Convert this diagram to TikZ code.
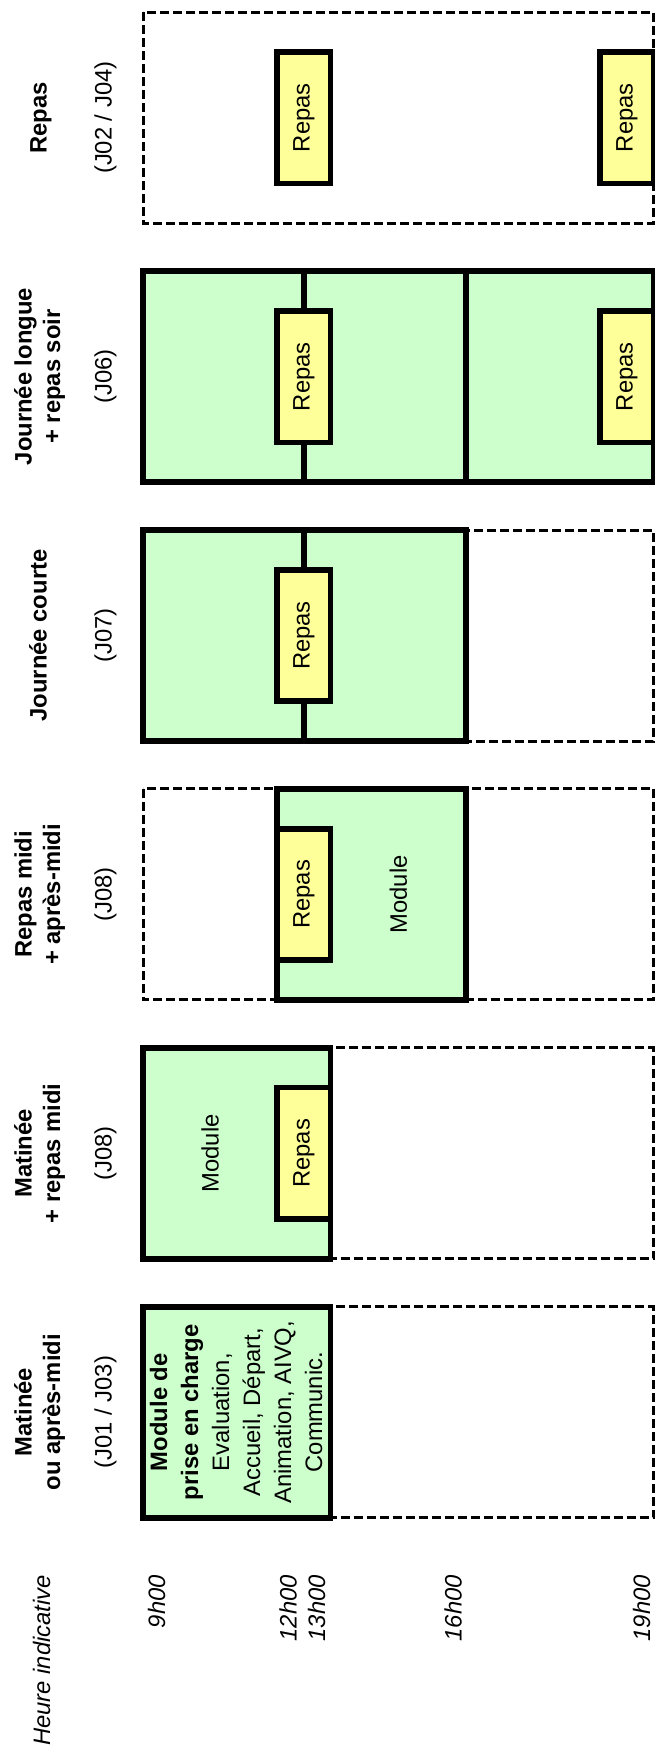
\documentclass[tikz,border=0pt]{standalone}
\usepackage{fontspec}
\setmainfont{Liberation Sans}
\definecolor{modgreen}{HTML}{CCFFCC}
\definecolor{mealyellow}{HTML}{FFFF99}
\begin{document}
\begin{tikzpicture}[x=1pt,y=-1pt,
  font=\fontsize{23.8}{30}\selectfont,
  boxline/.style={line width=5.7pt},
  modulebox/.style={boxline, fill=modgreen},
  dashline/.style={line width=3pt, dash pattern=on 9pt off 4pt},
  mealbox/.style={draw, boxline, fill=mealyellow, rotate=90, inner sep=0pt,
    minimum width=131.5pt, minimum height=53.6pt},
  hdr/.style={rotate=90, anchor=base, inner sep=0pt, font=\fontsize{23.8}{28}\selectfont\bfseries},
  code/.style={rotate=90, anchor=base, inner sep=0pt},
  hour/.style={rotate=90, anchor=base east, inner sep=0pt, font=\fontsize{23.8}{28}\selectfont\itshape},
  boxtext/.style={rotate=90, inner sep=0pt}
]
\useasboundingbox (0,0) rectangle (654,1749);

% ---------- Row 6 : Repas (J02 / J04)
\draw[dashline] (143,12.2) rectangle (653.5,223.2);
\node[mealbox] (r6m1) at (303.8,117.7) {Repas};
\node[mealbox, minimum height=53.2pt] (r6m2) at (626.9,117.7) {Repas};
\node[hdr] (h6a) at (46.7,117.7) {Repas};
\node[code] (c6) at (111.7,117.7) {(J02 / J04)};

% ---------- Row 5 : Journee longue + repas soir (J06)
\draw[modulebox] (143,271.1) rectangle (653.5,482.1);
\draw[boxline] (303.8,271.1) -- (303.8,482.1);
\draw[boxline] (466,271.1) -- (466,482.1);
\node[mealbox] (r5m1) at (303.8,376.6) {Repas};
\node[mealbox, minimum height=53.2pt] (r5m2) at (626.9,376.6) {Repas};
\node[hdr] (h5a) at (31.7,376.6) {Journée longue};
\node[hdr] (h5b) at (60,376.6) {+ repas soir};
\node[code] (c5) at (111.7,376.6) {(J06)};

% ---------- Row 4 : Journee courte (J07)
\draw[dashline] (466,530) rectangle (653.5,741);
\draw[modulebox] (143,530) rectangle (466,741);
\draw[boxline] (303.8,530) -- (303.8,741);
\node[mealbox] (r4m1) at (303.8,635.5) {Repas};
\node[hdr] (h4a) at (46.7,635.5) {Journée courte};
\node[code] (c4) at (111.7,635.5) {(J07)};

% ---------- Row 3 : Repas midi + apres-midi (J08)
\draw[dashline] (143,788.9) rectangle (653.5,999.9);
\draw[modulebox] (277,788.9) rectangle (466,999.9);
\node[mealbox] (r3m1) at (303.8,894.4) {Repas};
\node[boxtext] (r3mod) at (398.3,894.4) {Module};
\node[hdr] (h3a) at (31.7,894.4) {Repas midi};
\node[hdr] (h3b) at (60,894.4) {+ après-midi};
\node[code] (c3) at (111.7,894.4) {(J08)};

% ---------- Row 2 : Matinee + repas midi (J08)
\draw[dashline] (330.6,1047.8) rectangle (653.5,1258.8);
\draw[modulebox] (143,1047.8) rectangle (330.6,1258.8);
\node[mealbox] (r2m1) at (303.8,1153.3) {Repas};
\node[boxtext] (r2mod) at (210,1153.3) {Module};
\node[hdr] (h2a) at (31.7,1153.3) {Matinée};
\node[hdr] (h2b) at (60,1153.3) {+ repas midi};
\node[code] (c2) at (111.7,1153.3) {(J08)};

% ---------- Row 1 : Matinee ou apres-midi (J01 / J03)
\draw[dashline] (330.6,1306.7) rectangle (653.5,1517.7);
\draw[modulebox] (143,1306.7) rectangle (330.6,1517.7);
\node[boxtext, align=center, font=\fontsize{23.8}{31}\selectfont] (r1mod) at (236,1412.2)
  {\textbf{Module de}\\\textbf{prise en charge}\\Evaluation,\\Accueil, Départ,\\Animation, AIVQ,\\Communic.};
\node[hdr] (h1a) at (31.7,1412.2) {Matinée};
\node[hdr] (h1b) at (60,1412.2) {ou après-midi};
\node[code] (c1) at (111.7,1412.2) {(J01 / J03)};

% ---------- Time axis
\node[hour] (t0) at (50,1575) {Heure indicative};
\node[hour] (t9) at (165,1575) {9h00};
\node[hour] (t12) at (296.7,1575) {12h00};
\node[hour] (t13) at (325,1575) {13h00};
\node[hour] (t16) at (461.7,1575) {16h00};
\node[hour] (t19) at (650,1575) {19h00};
\end{tikzpicture}
\end{document}
